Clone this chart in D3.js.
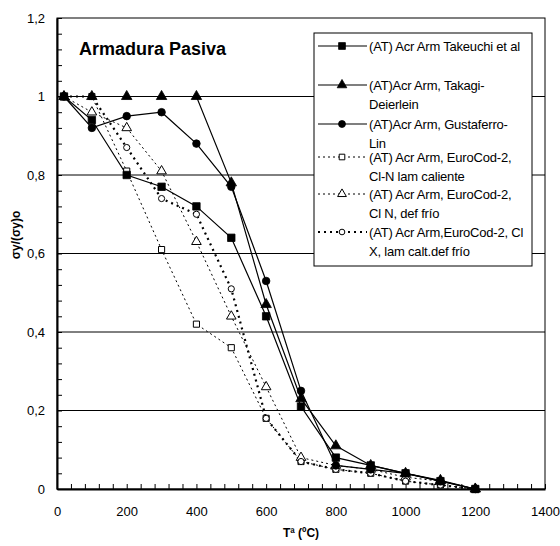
<!DOCTYPE html>
<html>
<head>
<meta charset="utf-8">
<script src="https://cdn.jsdelivr.net/npm/d3@7"></script>
<style>
  body { margin: 0; background: #fff; }
  text { font-family: "Liberation Sans", Arial, sans-serif; fill: #000; }
</style>
</head>
<body>
<svg></svg>
<script>
let width = 560
let height = 546
let margin = { top: 18, right: 15, bottom: 57, left: 57 }

// temperatures (ºC)
let temps = [20, 100, 200, 300, 400, 500, 600, 700, 800, 900, 1000, 1100, 1200]

let takeuchi    = [1, 0.94, 0.80, 0.77, 0.72, 0.64, 0.44, 0.21, 0.08, 0.06, 0.04, 0.02, 0]
let takagi      = [1, 1, 1, 1, 1, 0.78, 0.47, 0.23, 0.11, 0.06, 0.04, 0.022, 0]
let gustaferro  = [1, 0.92, 0.95, 0.96, 0.88, 0.77, 0.53, 0.25, 0.06, 0.05, 0.04, 0.02, 0]
let ecCaliente  = [1, 1, 0.81, 0.61, 0.42, 0.36, 0.18, 0.07, 0.05, 0.04, 0.02, 0.01, 0]
let ecDefFrio   = [1, 0.96, 0.92, 0.81, 0.63, 0.44, 0.26, 0.08, 0.06, 0.05, 0.03, 0.02, 0]
let ecClX       = [1, 1, 0.87, 0.74, 0.70, 0.51, 0.18, 0.07, 0.05, 0.04, 0.02, 0.01, 0]

let xTicks = [0, 200, 400, 600, 800, 1000, 1200, 1400]
let yTicks = [0, 0.2, 0.4, 0.6, 0.8, 1, 1.2]

let series = [
  { name: ['(AT) Acr Arm Takeuchi et al'], values: takeuchi, marker: 'square', filled: true, dash: null, sw: 1.2 },
  { name: ['(AT)Acr Arm, Takagi-', 'Deierlein'], values: takagi, marker: 'triangle', filled: true, dash: null, sw: 1.2 },
  { name: ['(AT)Acr Arm, Gustaferro-', 'Lin'], values: gustaferro, marker: 'circle', filled: true, dash: null, sw: 1.2 },
  { name: ['(AT) Acr Arm, EuroCod-2,', 'Cl-N lam caliente'], values: ecCaliente, marker: 'square', filled: false, dash: '2,3', sw: 1 },
  { name: ['(AT) Acr Arm, EuroCod-2,', 'Cl N, def frío'], values: ecDefFrio, marker: 'triangle', filled: false, dash: '2,3', sw: 1 },
  { name: ['(AT) Acr Arm,EuroCod-2, Cl', 'X, lam calt.def frío'], values: ecClX, marker: 'circle', filled: false, dash: '2,4', sw: 2.2 }
]

let svg = d3.select('svg')
    .attr('width', width)
    .attr('height', height)

let xScale = d3.scaleLinear()
                .domain([0, 1400])
                .range([margin.left, width - margin.right])

let yScale = d3.scaleLinear()
                .domain([0, 1.2])
                .range([height - margin.bottom, margin.top])

let comma = d => String(d).replace('.', ',')

// horizontal grid lines
svg.append('g')
  .selectAll('line')
  .data(yTicks.filter(d => d > 0 && d < 1.2))
  .enter()
  .append('line')
    .attr('x1', xScale(0))
    .attr('x2', xScale(1400))
    .attr('y1', d => yScale(d))
    .attr('y2', d => yScale(d))
    .attr('stroke', '#000')
    .attr('stroke-width', 1)

// plot frame
svg.append('rect')
    .attr('x', xScale(0))
    .attr('y', yScale(1.2))
    .attr('width', xScale(1400) - xScale(0))
    .attr('height', yScale(0) - yScale(1.2))
    .attr('fill', 'none')
    .attr('stroke', '#000')
    .attr('stroke-width', 1)

// minor ticks (inside)
let xMinor = d3.axisBottom(xScale)
              .tickValues(d3.range(0, 1401, 40))
              .tickSize(-5)
              .tickSizeOuter(0)
              .tickFormat('')

let yMinor = d3.axisLeft(yScale)
              .tickValues(d3.range(0, 1.2001, 0.04))
              .tickSize(-5)
              .tickSizeOuter(0)
              .tickFormat('')

svg.append('g')
    .attr('transform', `translate(0, ${yScale(0)})`)
    .call(xMinor)
    .call(g => g.select('.domain').attr('stroke-width', 2))

svg.append('g')
    .attr('transform', `translate(${xScale(0)}, 0)`)
    .call(yMinor)
    .call(g => g.select('.domain').attr('stroke-width', 2))

// tick labels
let xLabels = d3.axisBottom(xScale)
                .tickValues(xTicks)
                .tickSize(0)
                .tickPadding(18)
                .tickFormat(d => d)

let yLabels = d3.axisLeft(yScale)
                .tickValues(yTicks)
                .tickSize(0)
                .tickPadding(12)
                .tickFormat(comma)

svg.append('g')
    .attr('transform', `translate(0, ${yScale(0)})`)
    .call(xLabels)
    .call(g => g.select('.domain').remove())
    .selectAll('text')
    .style('font-size', '13px')
    .style('font-family', '"Liberation Sans", Arial, sans-serif')

svg.append('g')
    .attr('transform', `translate(${xScale(0)}, 0)`)
    .call(yLabels)
    .call(g => g.select('.domain').remove())
    .selectAll('text')
    .style('font-size', '13px')
    .style('font-family', '"Liberation Sans", Arial, sans-serif')

// marker drawing
function drawMarker(g, s, size) {
  let fill = s.filled ? '#000' : '#fff'
  let sw = s.filled ? 0.8 : 1
  let sym
  if (s.marker === 'square') sym = d3.symbol().type(d3.symbolSquare).size(s.filled ? size * 1.1 : size * 0.75)
  else if (s.marker === 'triangle') sym = d3.symbol().type(d3.symbolTriangle).size(s.filled ? size * 0.95 : size * 0.8)
  else sym = d3.symbol().type(d3.symbolCircle).size(s.filled ? size * 0.9 : size * 0.6)
  g.append('path')
      .attr('d', sym())
      .attr('fill', fill)
      .attr('stroke', '#000')
      .attr('stroke-width', sw)
}

let line = d3.line()
              .x((d, i) => xScale(temps[i]))
              .y(d => yScale(d))

// draw dashed series first, solid on top
let order = [3, 4, 5, 0, 1, 2]
order.forEach(k => {
  let s = series[k]
  svg.append('path')
      .datum(s.values)
      .attr('d', line)
      .attr('fill', 'none')
      .attr('stroke', '#000')
      .attr('stroke-width', s.sw)
      .attr('stroke-dasharray', s.dash)
})

order.forEach(k => {
  let s = series[k]
  s.values.forEach((v, i) => {
    let g = svg.append('g')
        .attr('transform', `translate(${xScale(temps[i])}, ${yScale(v)})`)
    drawMarker(g, s, 50)
  })
})

// title
svg.append('text')
    .attr('x', 79)
    .attr('y', 55)
    .style('font-size', '18px')
    .style('font-weight', 'bold')
    .text('Armadura Pasiva')

// legend
let legend = svg.append('g')

legend.append('rect')
    .attr('x', 314)
    .attr('y', 33)
    .attr('width', 218)
    .attr('height', 233)
    .attr('fill', '#fff')
    .attr('stroke', '#000')
    .attr('stroke-width', 1)

let rowY = [46, 85, 124, 157, 194, 232]

series.forEach((s, i) => {
  let y = rowY[i]
  legend.append('line')
      .attr('x1', 318)
      .attr('x2', 367)
      .attr('y1', y)
      .attr('y2', y)
      .attr('stroke', '#000')
      .attr('stroke-width', s.sw)
      .attr('stroke-dasharray', s.dash)
  let g = legend.append('g')
      .attr('transform', `translate(342, ${y})`)
  drawMarker(g, s, 42)
  s.name.forEach((t, j) => {
    legend.append('text')
        .attr('x', 369)
        .attr('y', y + j * 19)
        .attr('dy', '0.35em')
        .style('font-size', '13px')
        .style('letter-spacing', '-0.2px')
        .text(t)
  })
})

// axis titles
svg.append('text')
    .attr('x', (xScale(0) + xScale(1400)) / 2)
    .attr('y', 537)
    .style('text-anchor', 'middle')
    .style('font-size', '12px')
    .style('font-weight', 'bold')
    .text('Tª (ºC)')

svg.append('text')
    .attr('transform', 'rotate(-90)')
    .attr('x', -235)
    .attr('y', 20)
    .style('text-anchor', 'middle')
    .style('font-size', '12px')
    .style('font-weight', 'bold')
    .text('σy/(σy)o')
</script>
</body>
</html>
